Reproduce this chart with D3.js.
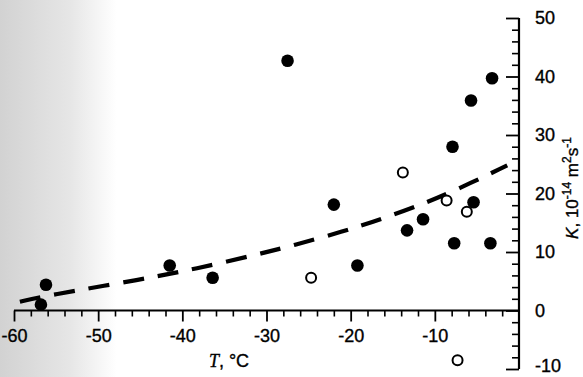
<!DOCTYPE html>
<html>
<head>
<meta charset="utf-8">
<script src="https://cdn.jsdelivr.net/npm/d3@7"></script>
<style>
  body { margin: 0; background: #fff; }
  svg { display: block; font-family: "Liberation Sans", Arial, sans-serif; }
  text { fill: #000; stroke: #000; stroke-width: 0.35px; }
</style>
</head>
<body>
<svg id="chart" width="583" height="377"></svg>
<script>
/* data */
const filledT = [-56.2, -56.8, -41.5, -36.4, -27.5, -22.0, -19.2, -13.3, -11.4, -7.7, -5.4, -3.4, -7.9, -5.7, -3.2];
const filledK = [4.4, 1.0, 7.7, 5.6, 42.7, 18.1, 7.7, 13.7, 15.6, 11.5, 18.5, 11.5, 28.0, 35.9, 39.7];
const openT = [-24.7, -13.8, -8.6, -6.2, -7.3];
const openK = [5.6, 23.6, 18.8, 16.9, -8.5];
const fitT = [-59.3, -56.3, -44.5, -38.5, -31.0, -26.9, -20.9, -16.4, -11.4, -7.3, -1.4];
const fitK = [1.5, 2.5, 5.4, 7.1, 9.6, 11.1, 13.5, 15.6, 18.2, 20.7, 24.8];
const xMajor = [-60, -50, -40, -30, -20, -10];
const yMajor = [-10, 0, 10, 20, 30, 40, 50];

const width = 583, height = 377;
const svg = d3.select("#chart");

/* scanned page shading on the left */
const defs = svg.append("defs");
const grad = defs.append("linearGradient").attr("id", "shade");
grad.append("stop").attr("offset", "0%").attr("stop-color", "#d2d2d2");
grad.append("stop").attr("offset", "12%").attr("stop-color", "#e6e6e6");
grad.append("stop").attr("offset", "20%").attr("stop-color", "#ffffff");
svg.append("rect").attr("width", width).attr("height", height).attr("fill", "url(#shade)");

const x = d3.scaleLinear().domain([-60, 0]).range([14, 519]);
const y = d3.scaleLinear().domain([-10, 50]).range([369, 18]);

/* x axis */
const xMinor = d3.range(-60, 0.1, 2).filter(v => v % 10 !== 0);
svg.append("g")
  .attr("transform", `translate(0,${y(0)})`)
  .call(d3.axisBottom(x).tickValues(xMinor).tickSize(6).tickFormat(""))
  .call(g => g.select(".domain").remove())
  .call(g => g.selectAll("line").attr("stroke-width", 1.6));
const xg = svg.append("g")
  .attr("transform", `translate(0,${y(0)})`)
  .call(d3.axisBottom(x).tickValues(xMajor).tickSize(11).tickSizeOuter(0).tickPadding(8)
    .tickFormat(d => String(d)));
xg.select(".domain").attr("stroke-width", 2.2).attr("d", `M${x(-60)},0H${x(0)}`);
xg.selectAll("line").attr("stroke-width", 1.8);
xg.selectAll("text").attr("font-size", 18).attr("font-family", "Liberation Sans, Arial");

/* y axis on the right, ticks pointing inwards */
const yMinor = d3.range(-10, 50.1, 2).filter(v => v % 10 !== 0);
svg.append("g")
  .attr("transform", `translate(${x(0)},0)`)
  .call(d3.axisLeft(y).tickValues(yMinor).tickSize(7).tickFormat(""))
  .call(g => g.select(".domain").remove())
  .call(g => g.selectAll("line").attr("stroke-width", 1.6));
const yg = svg.append("g")
  .attr("transform", `translate(${x(0)},0)`)
  .call(d3.axisLeft(y).tickValues(yMajor).tickSize(13).tickSizeOuter(0).tickFormat(""));
yg.select(".domain").attr("stroke-width", 2.2).attr("d", `M0,${y(-10)}V${y(50)}`);
yg.selectAll("line").attr("stroke-width", 1.8);
svg.append("g").selectAll("text")
  .data(yMajor)
  .join("text")
  .attr("x", x(0) + 16)
  .attr("y", d => Math.min(y(d) + 6, 372))
  .attr("font-size", 18)
  .text(d => String(d));

/* fitted dashed curve */
const line = d3.line().x(d => x(d[0])).y(d => y(d[1])).curve(d3.curveBasis);
svg.append("path")
  .datum(d3.zip(fitT, fitK))
  .attr("d", line)
  .attr("fill", "none")
  .attr("stroke", "#000")
  .attr("stroke-width", 4.2)
  .attr("stroke-dasharray", "21,14");

/* points */
svg.append("g").selectAll("circle")
  .data(d3.zip(filledT, filledK))
  .join("circle")
  .attr("cx", d => x(d[0]))
  .attr("cy", d => y(d[1]))
  .attr("r", 6.3)
  .attr("fill", "#000");
svg.append("g").selectAll("circle")
  .data(d3.zip(openT, openK))
  .join("circle")
  .attr("cx", d => x(d[0]))
  .attr("cy", d => y(d[1]))
  .attr("r", 5)
  .attr("fill", "#fff")
  .attr("stroke", "#000")
  .attr("stroke-width", 2);

/* axis titles */
const xt = svg.append("text").attr("x", 229).attr("y", 367).attr("font-size", 18).attr("text-anchor", "middle");
xt.append("tspan").attr("font-family", "Liberation Serif, serif").attr("font-style", "italic").text("T");
xt.append("tspan").text(", °C");

const yt = svg.append("text")
  .attr("transform", "translate(578,188) rotate(-90)")
  .attr("font-size", 17).attr("text-anchor", "middle");
yt.append("tspan").attr("font-style", "italic").text("K");
yt.append("tspan").text(", 10");
yt.append("tspan").attr("font-size", 12).attr("dy", -7).text("-14");
yt.append("tspan").attr("dy", 7).text(" m");
yt.append("tspan").attr("font-size", 12).attr("dy", -7).text("2");
yt.append("tspan").attr("dy", 7).text("s");
yt.append("tspan").attr("font-size", 12).attr("dy", -7).text("-1");
</script>
</body>
</html>
